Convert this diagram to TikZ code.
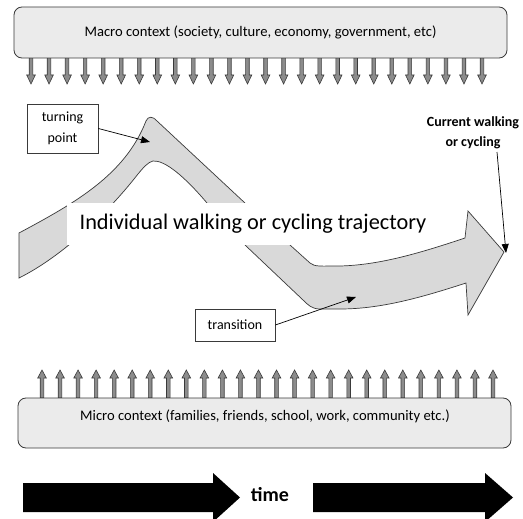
\documentclass[tikz,border=0pt]{standalone}
\usepackage{fontspec}
\setmainfont{Carlito}
\usetikzlibrary{arrows.meta}
\definecolor{bandgray}{HTML}{D9D9D9}
\definecolor{boxgray}{HTML}{EBEBEB}
\definecolor{edgegray}{HTML}{3A3A3A}
\definecolor{tickfill}{HTML}{8C8C8C}
\begin{document}
\begin{tikzpicture}[x=1pt,y=-1pt,
  ctxbox/.style={draw=edgegray,line width=0.8pt,fill=boxgray,rounded corners=8pt,inner sep=0pt},
  ctxfont/.style={font=\fontsize{14.6pt}{17pt}\selectfont},
  labelbox/.style={draw=edgegray,line width=0.8pt,fill=white,inner sep=0pt,align=center,
    font=\fontsize{14pt}{21pt}\selectfont},
  band/.style={draw=edgegray,line width=0.7pt,fill=bandgray},
  tickstyle/.style={draw=edgegray,line width=0.6pt,fill=tickfill},
  pointer/.style={draw=black,line width=0.7pt,-{Triangle[length=9pt,width=7pt]}},
  bigarrow/.style={fill=black},
  downtick/.pic={\filldraw[tickstyle] (-1.8,0) -- (-1.8,18) -- (-4.3,18) -- (0,27) -- (4.3,18) -- (1.8,18) -- (1.8,0) -- cycle;},
  uptick/.pic={\filldraw[tickstyle] (-1.8,0) -- (-1.8,-20) -- (-4.3,-20) -- (0,-28) -- (4.3,-20) -- (1.8,-20) -- (1.8,0) -- cycle;}
]
\clip (0,0) rectangle (523,519);
\fill[white] (0,0) rectangle (523,519);

% macro context and its downward influences
\foreach \i in {0,...,25}{
  \pic at ({31+18.04*\i},57) {downtick};
}
\node[ctxbox,ctxfont,minimum width=493pt,minimum height=51pt]
  (macro) at (260.5,32.5) {Macro context (society, culture, economy, government, etc)};

% micro context and its upward influences
\foreach \i in {0,...,25}{
  \pic at ({42+18.04*\i},398) {uptick};
}
\node[ctxbox,minimum width=493pt,minimum height=50pt] (micro) at (264.5,423) {};
\node[ctxfont] (microtxt) at (265,416)
  {Micro context (families, friends, school, work, community etc.)};

% the trajectory band
\filldraw[band] (19,233) .. controls (75,203) and (125,175) .. (146,121)
  .. controls (148,116) and (153,116) .. (157,121) -- (290,245) -- (310,263)
  .. controls (315,267) and (320,266) .. (340,266)
  .. controls (380,265) and (420,253) .. (465,238) -- (468,211) -- (504,252)
  -- (468,315) -- (466,283)
  .. controls (420,298) and (380,309) .. (340,309) -- (320,309)
  .. controls (312,309) and (308,305) .. (303,300) -- (245,245) -- (207,203)
  .. controls (185,177) and (165,160) .. (153,161)
  .. controls (148,162) and (143,168) .. (138,174)
  .. controls (110,210) and (65,255) .. (19,278) -- cycle;
\node[fill=white,minimum width=372pt,minimum height=42pt,inner sep=0pt,
  font=\fontsize{22.3pt}{26pt}\selectfont] (traj) at (253,224)
  {Individual walking or cycling trajectory};

% labels
\node[labelbox,minimum width=71pt,minimum height=49pt] (turn) at (62.5,128.5) {turning\\point};
\coordinate (turnpt) at (150,142);
\draw[pointer] (turn.east) -- (turnpt);

\node[labelbox,minimum width=80pt,minimum height=32pt] (trans) at (235,325) {transition};
\coordinate (transpt) at (356,297);
\draw[pointer] (trans.east) -- (transpt);

\node[align=center,font=\bfseries\fontsize{14pt}{20pt}\selectfont] (cur) at (473,133)
  {Current walking\\or cycling};
\coordinate (curfrom) at (497,152);
\coordinate (curpt) at (506,253);
\draw[pointer] (curfrom) -- (curpt);

% time axis
\fill[bigarrow] (23,483) -- (213,483) -- (213,473) -- (240,497.5) -- (213,522)
  -- (213,512) -- (23,512) -- cycle;
\fill[bigarrow] (313,483) -- (485,483) -- (485,473) -- (513,497.5) -- (485,522)
  -- (485,512) -- (313,512) -- cycle;
\node[font=\bfseries\fontsize{20pt}{24pt}\selectfont] (time) at (270,495) {time};
\end{tikzpicture}
\end{document}
